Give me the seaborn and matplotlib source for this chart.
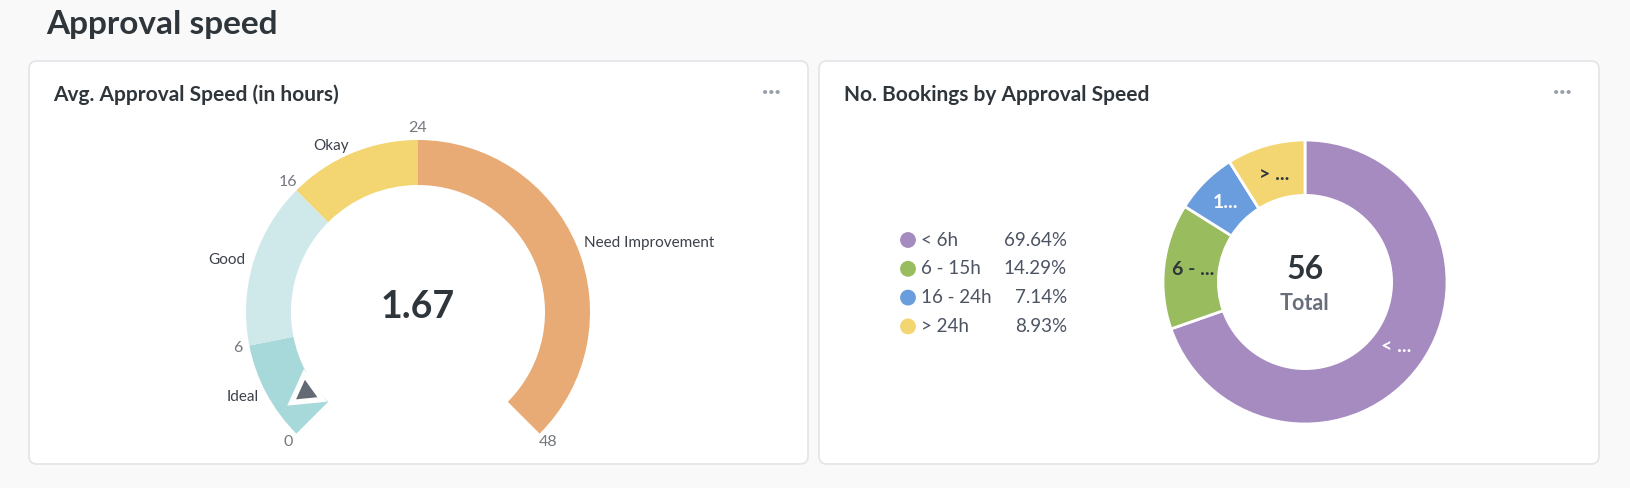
import numpy as np
import pandas as pd
import matplotlib
matplotlib.use("Agg")
import matplotlib.pyplot as plt
from matplotlib.patches import FancyBboxPatch, Polygon
import seaborn as sns

# gauge data
gauge_value = 1.67
gauge_max = 48
band_names = ["Ideal", "Good", "Okay", "Need Improvement"]
band_edges = [0, 6, 16, 24, 48]
band_colors = ["#A7D8DA", "#CFE9EA", "#F3D572", "#E8AB76"]

# donut data
speed_cats = ["< 6h", "6 - 15h", "16 - 24h", "> 24h"]
speed_counts = [39, 8, 4, 5]
speed_short = ["< ...", "6 - ...", "1...", "> ..."]
speed_colors = ["#A68BC1", "#98BC5E", "#6A9DDE", "#F3D572"]

sns.set_theme(style="white")
plt.rcParams["font.family"] = ["Lato", "DejaVu Sans"]

W, H = 1630, 488
fig = plt.figure(figsize=(W / 100, H / 100), dpi=100)
fig.patch.set_facecolor("#F9F9FA")

bg = fig.add_axes([0, 0, 1, 1])
bg.set_xlim(0, W)
bg.set_ylim(H, 0)
bg.axis("off")

for x0, x1 in [(29, 808), (819, 1599)]:
    bg.add_patch(FancyBboxPatch((x0, 61), x1 - x0, 403, boxstyle="round,pad=0,rounding_size=8",
                                fc="white", ec="#E2E4E8", lw=1.2))

bg.text(46, 34, "Approval speed", fontsize=24, fontweight="bold", color="#2E353B", va="baseline")
bg.text(53, 101, "Avg. Approval Speed (in hours)", fontsize=15, fontweight="bold", color="#2E353B", va="baseline")
bg.text(844, 101, "No. Bookings by Approval Speed", fontsize=15, fontweight="bold", color="#2E353B", va="baseline")
for xd in [771, 1562]:
    bg.text(xd, 92, "···", fontsize=16, fontweight="bold", color="#9AA0AA", ha="center", va="center")


def px_axes(cx, cy, half):
    return fig.add_axes([(cx - half) / W, (H - cy - half) / H, 2 * half / W, 2 * half / H])


# ---- gauge ----
R_OUT = 172
gax = px_axes(418, 312, 200)
sizes = list(np.diff(band_edges)) + [gauge_max / 3]
span = 270.0
start = 225.0
gax.pie(sizes, colors=band_colors + ["none"], startangle=start, counterclock=False,
        radius=1, wedgeprops=dict(width=45 / R_OUT, linewidth=0))
lim = 200 / R_OUT
gax.set_xlim(-lim, lim)
gax.set_ylim(-lim, lim)
gax.set_aspect("equal")
gax.axis("off")


def val_angle(v):
    return np.deg2rad(start - v / gauge_max * span)


for v in band_edges:
    a = val_angle(v)
    gax.text(1.07 * np.cos(a), 1.07 * np.sin(a), str(v), fontsize=11.5, color="#74787F",
             ha="center", va="center")

for name, lo, hi in zip(band_names, band_edges[:-1], band_edges[1:]):
    a = val_angle((lo + hi) / 2)
    c = np.cos(a)
    ha = "right" if c < -0.2 else ("left" if c > 0.2 else "center")
    gax.text(1.047 * c, 1.047 * np.sin(a), name, fontsize=11, color="#3B414B", ha=ha, va="center")

a = val_angle(gauge_value)
cxn, cyn = 0.80 * np.cos(a), 0.80 * np.sin(a)
for rr, col in [(0.135, "white"), (0.072, "#646A73")]:
    pts = [(cxn + rr * np.cos(a + k * 2 * np.pi / 3), cyn + rr * np.sin(a + k * 2 * np.pi / 3)) for k in range(3)]
    gax.add_patch(Polygon(pts, closed=True, fc=col, ec="none", zorder=5))

gax.text(0, 0.03, f"{gauge_value:.2f}", fontsize=27, fontweight="bold", color="#2E353B", ha="center", va="center")

# ---- donut ----
D_OUT = 142
dax = px_axes(1305, 282, 160)
wedges, _ = dax.pie(speed_counts, colors=speed_colors, startangle=90, counterclock=False, radius=1,
                    wedgeprops=dict(width=0.39, edgecolor="white", linewidth=2))
dl = 160 / D_OUT
dax.set_xlim(-dl, dl)
dax.set_ylim(-dl, dl)
dax.set_aspect("equal")
dax.axis("off")

txt_cols = ["white", "#2E353B", "white", "#2E353B"]
for w, s, tc in zip(wedges, speed_short, txt_cols):
    ang = np.deg2rad((w.theta1 + w.theta2) / 2)
    dax.text(0.79 * np.cos(ang), 0.79 * np.sin(ang), s, fontsize=14, fontweight="bold",
             color=tc, ha="center", va="center")

total = sum(speed_counts)
dax.text(0, 0.085, str(total), fontsize=23, fontweight="bold", color="#2E353B", ha="center", va="center")
dax.text(0, -0.15, "Total", fontsize=15.5, fontweight="bold", color="#696E7B", ha="center", va="center")

# legend
leg = pd.DataFrame({"cat": speed_cats, "x": 908, "y": [240 + 28.8 * i for i in range(len(speed_cats))]})
sns.scatterplot(data=leg, x="x", y="y", hue="cat", palette=speed_colors, s=130, edgecolor="none",
                legend=False, ax=bg)
bg.set_xlim(0, W)
bg.set_ylim(H, 0)
bg.axis("off")
for (_, row), cnt in zip(leg.iterrows(), speed_counts):
    bg.text(921, row["y"], row["cat"], fontsize=13.5, color="#4C5363", ha="left", va="center")
    bg.text(1067, row["y"], f"{100 * cnt / total:.2f}%", fontsize=13.5, color="#4C5363", ha="right", va="center")

fig.savefig("out.png", dpi=100, facecolor=fig.get_facecolor())
